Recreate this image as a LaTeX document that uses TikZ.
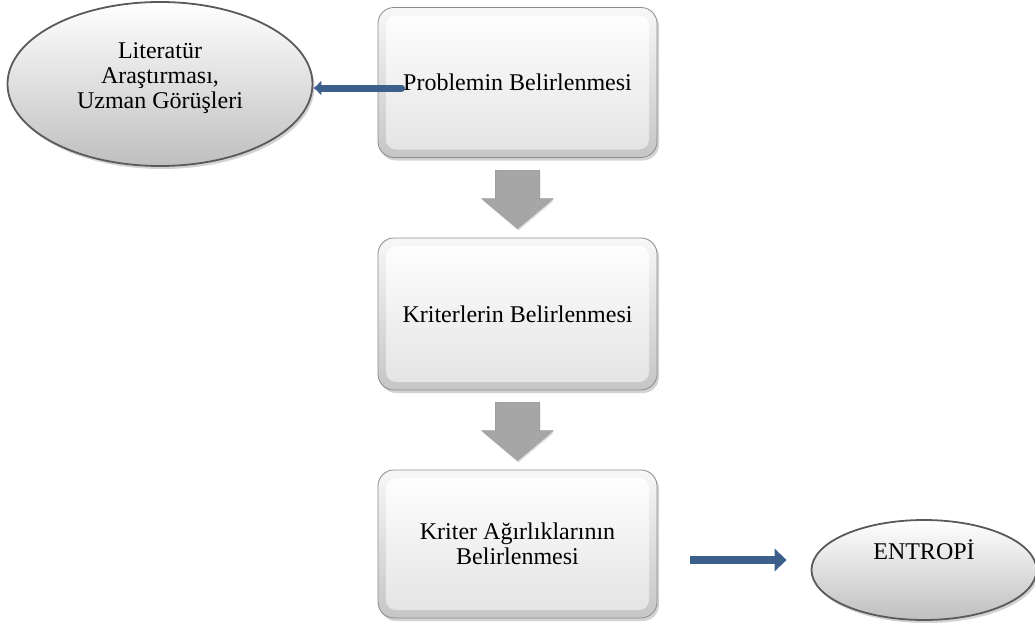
\documentclass[tikz,border=0pt]{standalone}
\usepackage{fontspec}
\setmainfont{Liberation Serif}
\usetikzlibrary{arrows.meta,positioning,shapes.geometric,shapes.arrows,shadows}
\definecolor{linkblue}{HTML}{3C5F8C}
\definecolor{rim}{HTML}{8C8C8C}
\definecolor{ovalrim}{HTML}{5A5A5A}
\definecolor{stepgray}{HTML}{A6A6A6}
\tikzset{stepbox/.style={draw=rim,rounded corners=8pt,top color=gray!6,bottom color=gray!45,
  minimum width=139.5pt,minimum height=75pt,align=center,inner sep=3pt,
  font=\fontsize{12}{12.5}\selectfont,
  drop shadow={opacity=.35,shadow xshift=1pt,shadow yshift=-1.5pt},
  path picture={\shade[top color=white,bottom color=gray!22,rounded corners=5pt]
    ([shift={(4pt,-4pt)}]path picture bounding box.north west) rectangle
    ([shift={(-4pt,4pt)}]path picture bounding box.south east);}},
  oval/.style={ellipse,draw=ovalrim,line width=.9pt,top color=white,bottom color=gray!50,
  align=center,inner sep=0pt,font=\fontsize{12}{12.5}\selectfont,
  drop shadow={opacity=.35,shadow xshift=1pt,shadow yshift=-1.5pt}},
  blockarrow/.style={single arrow,shape border rotate=270,fill=stepgray,draw=gray!75,
  inner xsep=10.75pt,inner ysep=0pt,minimum height=29pt,single arrow head extend=6.75pt,
  single arrow tip angle=100,anchor=tail,
  drop shadow={opacity=.3,shadow xshift=.5pt,shadow yshift=-1pt}},
  link/.style={-{Latex[length=4pt,width=8pt]},line width=3.5pt,draw=linkblue,line cap=round},
  flow/.style={-{Triangle[length=6pt,width=11pt]},line width=4pt,draw=linkblue}}

\begin{document}
\begin{tikzpicture}[x=0.5pt,y=-0.5pt]
\useasboundingbox (0,0) rectangle (1035,632);
\node[stepbox] (prob) at (517.5,82.5) {Problemin Belirlenmesi};
\node[stepbox,minimum height=76pt] (krit) at (517.5,314) {Kriterlerin Belirlenmesi};
\node[stepbox,minimum height=74pt] (agir) at (517.5,544) {Kriter Ağırlıklarının\\Belirlenmesi};
\node[blockarrow] (ar1) at (517.5,170) {};
\node[blockarrow] (ar2) at (517.5,402) {};
\node[oval,minimum width=152.5pt,minimum height=82pt,text depth=8pt] (lit) at (160,84)
  {Literatür\\Araştırması,\\Uzman Görüşleri};
\node[oval,minimum width=112.5pt,minimum height=50pt,text depth=20pt] (ent) at (924,570) {ENTROPİ};
\draw[link] ([xshift=12pt,yshift=-2.75pt]prob.west) -- ([yshift=-2pt]lit.east);
\draw[flow] ([xshift=16.5pt,yshift=-8pt]agir.east) -- ([xshift=-12pt,yshift=5pt]ent.west);
\end{tikzpicture}
\end{document}
